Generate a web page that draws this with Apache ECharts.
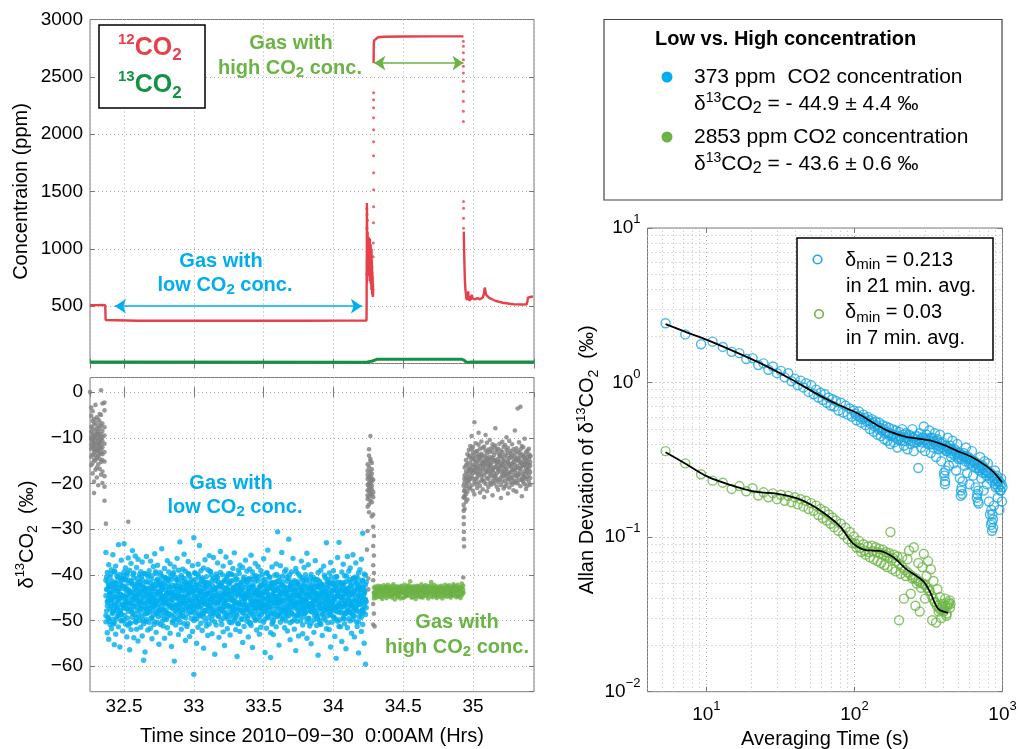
<!DOCTYPE html>
<html>
<head>
<meta charset="utf-8">
<script src="https://cdn.jsdelivr.net/npm/echarts/dist/echarts.min.js"></script>
<style>html,body{margin:0;padding:0;background:#fff;overflow:hidden}#chart{width:1019px;height:749px}</style>
</head>
<body>
<div id="chart"></div>
<script>
// ---------------- DATA ----------------
// Top-left: 12CO2 concentration (ppm) vs time (hrs)
const red12Low = [[32.256,508],[32.30,509],[32.34,510],[32.365,508],[32.368,380],[32.372,374],[32.6,373],[32.9,374],[33.2,373],[33.5,374],[33.8,373],[34.1,374],[34.237,374],[34.238,520],[34.2385,900],[34.239,700],[34.2395,1200],[34.240,1400],[34.2405,950],[34.241,1250],[34.2415,880],[34.242,1100],[34.2425,820],[34.243,1050],[34.244,900],[34.245,1150],[34.246,780],[34.247,1000],[34.248,860],[34.249,1080],[34.25,800],[34.251,960],[34.252,850],[34.253,1100],[34.254,760],[34.255,1000],[34.256,880],[34.257,1060],[34.258,790],[34.259,950],[34.26,720],[34.261,1090],[34.262,830],[34.263,1000],[34.264,760],[34.265,920],[34.266,700],[34.267,1040],[34.268,780],[34.269,960],[34.27,690],[34.271,880],[34.272,640],[34.273,1000],[34.274,720],[34.275,900],[34.276,650],[34.277,860],[34.278,600],[34.279,800],[34.28,620],[34.281,760],[34.282,580],[34.283,700],[34.284,590],[34.285,650]];
const red12High = [[34.288,2620],[34.289,2780],[34.292,2818],[34.30,2835],[34.32,2845],[34.36,2850],[34.5,2852],[34.7,2853],[34.931,2853]];
const red12Tail = [[34.934,1150],[34.936,1000],[34.939,850],[34.942,720],[34.946,640],[34.95,600],[34.953,560],[34.956,610],[34.959,550],[34.962,580],[34.966,630],[34.969,560],[34.973,590],[34.977,545],[34.981,575],[34.985,555],[34.99,600],[34.995,570],[35.0,555],[35.006,580],[35.012,560],[35.018,575],[35.025,560],[35.032,570],[35.04,556],[35.05,560],[35.06,565],[35.07,575],[35.078,610],[35.084,662],[35.088,640],[35.093,600],[35.1,585],[35.116,572],[35.14,558],[35.164,545],[35.19,537],[35.212,530],[35.24,525],[35.261,521],[35.29,517],[35.31,516],[35.34,515],[35.36,514],[35.385,516],[35.39,545],[35.394,575],[35.40,560],[35.41,580],[35.42,565],[35.43,585]];
const red12Dots = [[34.288,2362],[34.288,2300],[34.288,2230],[34.288,2144],[34.288,2039],[34.288,1934],[34.288,1812],[34.288,1664],[34.288,1515],[34.288,1366],[34.287,1227],[34.286,1050],[34.285,930],[34.241,1300],[34.240,1180],[34.239,780],[34.2395,1350],[34.244,1250],[34.931,2810],[34.931,2767],[34.931,2709],[34.931,2650],[34.931,2592],[34.931,2534],[34.931,2461],[34.931,2373],[34.931,2286],[34.931,2199],[34.931,2111],[34.932,1412],[34.932,1354],[34.932,1267],[34.932,1179]];
const green13 = [[32.256,12],[32.37,12],[32.372,11],[34.237,11],[34.25,16],[34.28,22],[34.29,28],[34.31,36],[34.92,36],[34.935,30],[34.95,14],[34.98,12],[35.437,12]];

// Bottom-left: d13CO2 (permil) vs time, rows = [time, values...]
const blueRows = [
[32.37,-35.1,-44.6,-48.9,-41.2,-50.3],[32.38,-46.8,-39.5,-43.1,-52.7,-45.9],[32.39,-42.3,-49.6,-37.8,-45.2,-54.1],[32.40,-47.5,-43.8,-40.6,-50.9,-44.0],
[32.41,-38.9,-46.3,-51.8,-42.7,-45.5],[32.42,-44.1,-35.6,-48.2,-49.7,-41.9],[32.43,-50.5,-43.4,-46.7,-39.2,-55.3],[32.44,-41.6,-47.9,-44.8,-53.0,-38.1],
[32.45,-45.7,-40.3,-49.1,-42.9,-47.2],[32.46,-33.4,-46.0,-43.7,-51.4,-48.5],[32.47,-42.0,-55.8,-45.3,-39.9,-47.8],[32.48,-48.7,-41.3,-44.4,-36.8,-50.1],
[32.49,-46.6,-52.3,-40.8,-44.9,-43.0],[32.50,-39.4,-47.1,-49.9,-42.5,-33.2],[32.51,-44.7,-50.8,-38.5,-46.4,-41.0],[32.52,-53.6,-43.2,-47.4,-40.1,-45.8],
[32.53,-41.8,-48.0,-36.3,-44.3,-51.1],[32.54,-46.2,-39.0,-50.6,-43.6,-56.4],[32.55,-43.9,-47.6,-41.4,-52.0,-37.5],[32.56,-49.3,-45.1,-34.7,-42.2,-48.4],
[32.57,-40.7,-44.5,-53.8,-46.9,-39.6],[32.58,-47.0,-42.6,-50.2,-35.9,-45.4],[32.59,-43.3,-49.4,-38.4,-45.0,-51.9],[32.60,-36.6,-46.5,-41.7,-54.5,-44.2],
[32.61,-48.1,-40.0,-46.1,-43.5,-50.0],[32.62,-45.6,-51.5,-39.3,-47.3,-42.4],[32.63,-41.1,-44.0,-49.0,-37.2,-53.4],[32.64,-47.7,-42.8,-45.0,-50.7,-58.7],
[32.65,-39.8,-48.6,-43.4,-46.3,-56.9],[32.66,-44.4,-36.0,-47.5,-41.5,-49.8],[32.67,-52.1,-45.5,-40.4,-48.3,-43.1],[32.68,-42.9,-47.4,-50.4,-39.1,-45.9],
[32.69,-46.0,-41.9,-37.0,-44.6,-51.7],[32.70,-49.5,-43.7,-46.8,-54.0,-40.2],[32.71,-38.2,-47.0,-42.1,-45.3,-48.8],[32.72,-44.9,-50.3,-35.4,-43.0,-46.6],
[32.73,-41.3,-45.8,-52.6,-48.2,-39.7],[32.74,-47.2,-40.9,-44.2,-37.9,-50.5],[32.75,-43.6,-55.2,-46.4,-41.8,-48.0],[32.76,-50.9,-42.3,-39.5,-45.6,-44.1],
[32.77,-45.1,-48.9,-43.2,-34.3,-47.7],[32.78,-40.5,-46.2,-51.2,-44.7,-42.0],[32.79,-48.4,-38.6,-45.7,-49.6,-53.9],[32.80,-42.6,-47.8,-40.7,-46.0,-44.5],
[32.81,-36.9,-43.9,-49.2,-51.6,-45.2],[32.82,-46.7,-41.2,-44.0,-39.4,-48.6],[32.83,-44.3,-52.8,-47.1,-42.7,-37.6],[32.84,-49.0,-45.4,-41.0,-55.7,-43.8],
[32.85,-39.9,-47.5,-50.1,-44.8,-46.3],[32.86,-43.1,-38.3,-46.9,-48.7,-58.9],[32.87,-47.9,-44.6,-42.4,-40.6,-51.0],[32.88,-45.3,-49.8,-36.4,-46.5,-43.0],
[32.89,-41.7,-47.3,-53.1,-44.1,-39.0],[32.90,-32.8,-45.7,-48.1,-42.5,-50.4],[32.91,-46.4,-40.1,-44.7,-51.9,-47.6],[32.92,-43.5,-48.3,-38.8,-45.1,-41.4],
[32.93,-50.7,-42.0,-46.1,-35.5,-44.9],[32.94,-39.2,-47.7,-43.3,-49.4,-54.4],[32.95,-45.0,-41.6,-51.3,-46.8,-42.8],[32.96,-48.5,-44.3,-39.7,-43.9,-37.1],
[32.97,-42.2,-53.5,-47.0,-45.5,-40.3],[32.98,-46.9,-43.1,-49.5,-41.1,-48.2],[32.99,-44.0,-38.0,-45.9,-52.4,-42.9],[33.00,-31.9,-47.4,-43.6,-50.0,-61.8],
[33.01,-45.6,-41.0,-48.8,-39.6,-46.7],[33.02,-49.7,-44.8,-42.3,-55.0,-43.4],[33.03,-40.0,-46.2,-51.5,-44.4,-37.7],[33.04,-47.1,-42.7,-45.2,-48.9,-33.6],
[33.05,-43.8,-50.6,-39.1,-46.0,-41.5],[33.06,-52.2,-45.3,-47.7,-42.1,-44.6],[33.07,-38.5,-48.4,-43.0,-49.3,-56.1],[33.08,-46.3,-41.8,-44.9,-36.7,-47.8],
[33.09,-42.4,-51.2,-46.6,-43.7,-40.4],[33.10,-48.0,-44.2,-38.9,-45.8,-53.3],[33.11,-41.9,-47.0,-50.8,-42.6,-35.8],[33.12,-45.4,-39.3,-43.5,-48.6,-46.1],
[33.13,-44.7,-52.9,-41.3,-47.5,-49.9],[33.14,-36.2,-45.9,-48.3,-40.8,-43.2],[33.15,-50.3,-43.3,-46.5,-44.0,-57.4],[33.16,-42.8,-47.9,-39.8,-51.0,-45.1],
[33.17,-46.1,-40.7,-44.4,-37.4,-48.7],[33.18,-43.9,-49.1,-53.7,-45.7,-42.2],[33.19,-39.5,-46.8,-42.5,-48.0,-34.9],[33.20,-47.6,-44.5,-50.9,-41.7,-45.3],
[33.21,-45.0,-38.1,-47.2,-52.5,-43.6],[33.22,-41.2,-48.5,-44.1,-46.4,-55.5],[33.23,-49.2,-42.9,-36.1,-45.6,-47.0],[33.24,-44.4,-51.8,-40.2,-43.0,-48.9],
[33.25,-46.7,-39.7,-45.5,-49.8,-42.0],[33.26,-37.3,-47.3,-43.8,-41.4,-53.2],[33.27,-48.2,-45.1,-50.5,-44.3,-39.9],[33.28,-42.7,-46.9,-38.6,-48.1,-45.7],
[33.29,-50.1,-43.5,-47.6,-35.2,-44.0],[33.30,-45.9,-41.1,-44.8,-52.0,-49.5],[33.31,-40.9,-48.8,-42.4,-46.2,-57.9],[33.32,-47.4,-44.0,-39.0,-50.7,-43.3],
[33.33,-43.1,-52.4,-46.0,-42.3,-37.9],[33.34,-49.6,-45.2,-41.6,-47.8,-44.5],[33.35,-38.4,-46.6,-48.4,-43.9,-54.8],[33.36,-44.8,-40.5,-45.3,-51.3,-47.1],
[33.37,-46.5,-49.0,-36.8,-42.8,-44.2],[33.38,-41.5,-47.7,-50.2,-45.0,-39.2],[33.39,-48.9,-43.6,-44.6,-53.6,-46.8],[33.40,-42.1,-38.7,-47.9,-41.0,-50.6],
[33.41,-45.8,-51.1,-43.0,-48.3,-35.7],[33.42,-47.3,-42.5,-46.3,-39.4,-55.9],[33.43,-40.3,-49.3,-44.9,-45.9,-42.6],[33.44,-50.0,-44.1,-37.5,-47.2,-48.0],
[33.45,-43.4,-46.7,-52.1,-40.9,-45.5],[33.46,-46.0,-41.3,-48.6,-44.4,-38.2],[33.47,-44.6,-53.0,-42.7,-49.1,-46.9],[33.48,-39.1,-45.7,-47.4,-43.2,-51.5],
[33.49,-48.1,-42.2,-40.0,-46.6,-44.3],[33.50,-45.3,-50.4,-44.0,-36.5,-47.3],[33.51,-41.0,-46.1,-49.7,-43.7,-57.0],[33.52,-47.8,-39.6,-45.1,-51.7,-42.5],
[33.53,-44.2,-48.7,-41.8,-46.4,-34.6],[33.54,-49.4,-43.0,-47.0,-40.4,-45.8],[33.55,-42.9,-52.7,-44.5,-48.4,-58.1],[33.56,-46.2,-41.7,-38.3,-45.2,-50.8],
[33.57,-43.7,-47.5,-50.0,-42.0,-53.1],[33.58,-48.6,-44.7,-40.1,-46.7,-43.5],[33.59,-37.6,-45.4,-48.2,-51.4,-41.6],[33.60,-30.6,-46.3,-43.1,-49.2,-44.8],
[33.61,-45.5,-40.6,-47.1,-42.8,-55.4],[33.62,-50.4,-44.2,-46.0,-38.0,-48.8],[33.63,-42.3,-48.1,-35.1,-45.6,-43.9],[33.64,-47.2,-43.4,-49.5,-41.5,-46.4],
[33.65,-44.0,-51.6,-42.6,-47.7,-39.3],[33.66,-38.9,-45.8,-44.3,-50.1,-48.3],[33.67,-46.8,-41.4,-52.3,-43.6,-45.0],[33.68,-32.2,-47.6,-40.8,-45.3,-49.0],
[33.69,-43.3,-50.5,-46.2,-42.4,-54.2],[33.70,-48.4,-44.5,-39.4,-47.0,-41.8],[33.71,-45.7,-36.4,-48.7,-43.8,-46.5],[33.72,-41.3,-49.8,-44.6,-51.9,-42.1],
[33.73,-47.0,-43.0,-45.9,-38.6,-56.6],[33.74,-44.4,-48.9,-41.9,-46.1,-50.2],[33.75,-39.8,-45.1,-53.4,-43.4,-47.4],[33.76,-49.1,-42.7,-46.4,-40.3,-44.7],
[33.77,-43.6,-47.3,-37.0,-48.5,-45.4],[33.78,-46.6,-51.0,-43.2,-41.2,-52.9],[33.79,-42.0,-44.9,-49.3,-47.6,-38.4],[33.80,-48.3,-40.0,-45.6,-44.2,-46.0],
[33.81,-45.2,-53.9,-42.8,-50.3,-35.3],[33.82,-37.8,-46.9,-47.8,-43.1,-49.6],[33.83,-44.8,-41.6,-51.2,-46.3,-42.9],[33.84,-50.6,-45.0,-39.9,-44.0,-55.1],
[33.85,-43.0,-48.2,-46.7,-42.2,-47.1],[33.86,-40.7,-52.6,-44.4,-49.9,-45.6],[33.87,-46.4,-43.9,-36.9,-48.0,-41.1],[33.88,-48.8,-42.5,-45.4,-51.1,-44.1],
[33.89,-42.6,-47.9,-49.0,-39.5,-57.6],[33.90,-45.9,-44.3,-41.4,-46.8,-50.0],[33.91,-39.0,-50.9,-47.3,-43.5,-45.1],[33.92,-47.5,-42.1,-44.0,-53.3,-48.6],
[33.93,-44.1,-46.2,-38.1,-49.4,-42.7],[33.94,-49.9,-43.7,-47.0,-40.6,-45.8],[33.95,-33.0,-48.0,-45.2,-51.8,-43.0],[33.96,-46.7,-41.0,-50.5,-44.9,-47.7],
[33.97,-43.2,-52.0,-42.3,-46.0,-39.6],[33.98,-48.0,-45.3,-48.8,-37.3,-55.8],[33.99,-41.8,-47.2,-44.5,-50.4,-43.6],[34.00,-45.6,-39.1,-46.6,-42.0,-49.2],
[34.01,-47.9,-43.4,-53.5,-45.5,-41.3],[34.02,-42.4,-49.7,-40.4,-47.4,-58.3],[34.03,-50.2,-44.6,-46.9,-36.2,-43.9],[34.04,-32.9,-46.1,-42.9,-48.2,-51.3],
[34.05,-44.7,-51.4,-45.0,-41.7,-47.0],[34.06,-39.4,-45.7,-48.4,-43.3,-54.6],[34.07,-46.9,-42.2,-37.7,-49.5,-44.2],[34.08,-43.5,-48.6,-45.8,-40.2,-50.7],
[34.09,-48.5,-41.5,-44.1,-46.5,-56.2],[34.10,-36.0,-47.8,-51.6,-43.0,-45.3],[34.11,-45.1,-43.8,-39.2,-48.1,-49.6],[34.12,-41.6,-50.1,-46.3,-44.3,-38.5],
[34.13,-47.3,-44.0,-42.5,-52.8,-46.0],[34.14,-43.9,-48.9,-49.8,-40.8,-35.6],[34.15,-49.0,-45.5,-43.6,-47.1,-53.6],[34.16,-40.5,-46.8,-37.4,-44.6,-42.0],
[34.17,-46.0,-51.3,-48.0,-41.9,-45.9],[34.18,-44.5,-42.6,-39.6,-50.3,-57.1],[34.19,-48.2,-45.2,-46.4,-43.3,-38.9],[34.20,-42.8,-49.3,-44.8,-36.6,-52.4],
[34.21,-45.7,-41.2,-47.6,-50.9,-30.9],[34.22,-47.0,-44.1,-39.8,-55.0,-43.4],[34.23,-40.1,-48.7,-45.4,-42.2,-59.6]
];
const blueCoreRows = [
[32.375,-43.2,-47.9,-40.5],[32.385,-45.8,-41.7,-49.3],[32.395,-44.1,-50.2,-42.6],[32.405,-46.9,-39.8,-44.7],[32.415,-41.4,-48.5,-45.3],[32.425,-47.6,-43.0,-50.8],
[32.435,-42.2,-46.4,-39.4],[32.445,-49.7,-44.8,-41.9],[32.455,-43.7,-40.6,-47.1],[32.465,-45.1,-49.0,-42.9],[32.475,-40.9,-44.3,-48.2],[32.485,-46.5,-42.4,-50.0],
[32.495,-44.6,-47.3,-40.2],[32.505,-48.9,-41.1,-45.6],[32.515,-42.8,-46.0,-43.5],[32.525,-39.6,-44.9,-49.5],[32.535,-47.0,-43.3,-41.2],[32.545,-44.0,-50.6,-46.2],
[32.555,-41.8,-45.4,-48.0],[32.565,-46.3,-39.9,-43.9],[32.575,-43.1,-48.7,-45.0],[32.585,-50.4,-42.0,-44.4],[32.595,-45.7,-47.8,-40.8],[32.605,-42.5,-44.6,-49.1],
[32.615,-47.4,-41.5,-45.9],[32.625,-40.4,-46.7,-43.6],[32.635,-44.8,-49.9,-42.1],[32.645,-46.1,-43.4,-39.7],[32.655,-42.9,-47.2,-50.3],[32.665,-48.4,-44.2,-41.6],
[32.675,-45.3,-40.0,-46.8],[32.685,-43.8,-48.1,-44.5],[32.695,-41.0,-45.7,-49.4],[32.705,-47.7,-42.7,-43.0],[32.715,-44.3,-50.9,-46.6],[32.725,-39.3,-46.2,-42.3],
[32.735,-45.9,-43.7,-48.6],[32.745,-42.4,-49.2,-44.1],[32.755,-47.9,-41.3,-45.2],[32.765,-43.5,-46.9,-40.1],[32.775,-50.1,-44.7,-42.8],[32.785,-41.7,-47.5,-45.8],
[32.795,-46.4,-40.7,-43.3],[32.805,-44.1,-48.3,-49.8],[32.815,-42.0,-45.5,-41.1],[32.825,-48.6,-43.1,-46.5],[32.835,-40.3,-46.8,-44.0],[32.845,-45.4,-42.2,-50.5],
[32.855,-47.1,-44.4,-39.5],[32.865,-43.9,-49.6,-42.5],[32.875,-41.2,-45.0,-47.6],[32.885,-46.7,-40.9,-44.9],[32.895,-44.5,-48.8,-43.4],[32.905,-49.3,-42.9,-46.0],
[32.915,-42.7,-47.0,-40.6],[32.925,-45.6,-43.5,-49.0],[32.935,-40.8,-46.3,-44.6],[32.945,-47.3,-41.8,-42.4],[32.955,-43.3,-50.7,-45.7],[32.965,-46.0,-44.1,-39.9],
[32.975,-41.9,-48.0,-47.2],[32.985,-45.2,-42.6,-43.8],[32.995,-48.1,-46.5,-41.4],[33.005,-44.7,-39.6,-49.7],[33.015,-42.3,-47.7,-45.1],[33.025,-46.9,-43.2,-42.0],
[33.035,-40.5,-45.9,-48.4],[33.045,-49.0,-44.0,-43.6],[33.055,-43.6,-41.0,-46.7],[33.065,-45.8,-48.6,-40.7],[33.075,-41.5,-46.1,-44.3],[33.085,-47.8,-42.8,-50.2],
[33.095,-44.2,-45.3,-41.7],[33.105,-42.1,-49.4,-46.9],[33.115,-46.6,-43.9,-39.2],[33.125,-40.1,-47.4,-45.0],[33.135,-45.0,-42.4,-48.9],[33.145,-48.3,-44.6,-43.0],
[33.155,-43.0,-46.0,-41.3],[33.165,-46.2,-40.4,-47.5],[33.175,-41.6,-49.1,-44.8],[33.185,-47.4,-45.7,-42.7],[33.195,-44.9,-42.1,-50.0],[33.205,-42.6,-47.9,-40.0],
[33.215,-49.5,-44.3,-46.3],[33.225,-45.5,-41.4,-43.1],[33.235,-40.7,-46.7,-48.2],[33.245,-46.8,-43.6,-44.5],[33.255,-43.4,-50.4,-41.8],[33.265,-48.8,-45.2,-39.8],
[33.275,-41.3,-47.1,-45.6],[33.285,-45.7,-42.9,-49.3],[33.295,-43.2,-40.2,-46.4],[33.305,-47.5,-48.5,-42.2],[33.315,-44.4,-43.7,-50.7],[33.325,-39.7,-46.5,-44.2],
[33.335,-46.4,-41.9,-47.8],[33.345,-42.9,-49.8,-43.4],[33.355,-48.2,-44.9,-40.9],[33.365,-45.3,-42.0,-46.1],[33.375,-41.1,-47.6,-44.7],[33.385,-47.2,-43.8,-49.5],
[33.395,-44.0,-40.8,-42.8],[33.405,-50.5,-46.4,-45.3],[33.415,-42.8,-44.5,-41.0],[33.425,-46.5,-48.7,-43.9],[33.435,-43.7,-41.6,-47.3],[33.445,-40.2,-45.8,-49.8],
[33.455,-47.0,-43.4,-44.1],[33.465,-44.6,-47.5,-40.4],[33.475,-42.4,-50.0,-45.9],[33.485,-48.7,-44.0,-42.3],[33.495,-45.1,-41.2,-46.6],[33.505,-41.9,-46.8,-48.1],
[33.515,-46.7,-43.0,-43.6],[33.525,-43.9,-49.3,-39.6],[33.535,-47.7,-45.5,-44.9],[33.545,-40.6,-42.7,-47.0],[33.555,-45.6,-48.4,-42.5],[33.565,-44.3,-41.8,-50.4],
[33.575,-49.2,-46.2,-43.2],[33.585,-42.5,-44.8,-45.8],[33.595,-46.3,-39.9,-41.5],[33.605,-43.6,-47.3,-48.8],[33.615,-41.4,-44.4,-46.0],[33.625,-47.9,-42.1,-43.8],
[33.635,-45.0,-49.7,-40.3],[33.645,-42.7,-45.6,-47.6],[33.655,-48.5,-43.3,-44.0],[33.665,-44.1,-40.5,-49.1],[33.675,-46.8,-47.8,-42.9],[33.685,-40.0,-44.7,-45.4],
[33.695,-45.9,-42.3,-48.3],[33.705,-43.1,-50.2,-41.7],[33.715,-47.3,-45.0,-46.7],[33.725,-41.7,-43.6,-43.3],[33.735,-49.0,-46.6,-39.4],[33.745,-44.5,-41.5,-47.9],
[33.755,-42.2,-48.2,-44.6],[33.765,-46.1,-44.1,-50.1],[33.775,-43.0,-40.7,-45.7],[33.785,-47.6,-47.0,-42.4],[33.795,-45.4,-43.8,-48.5],[33.805,-40.9,-45.9,-41.2],
[33.815,-46.9,-42.5,-44.3],[33.825,-44.0,-49.5,-46.8],[33.835,-48.0,-43.1,-40.6],[33.845,-42.6,-46.3,-47.4],[33.855,-45.8,-41.1,-43.7],[33.865,-43.4,-48.9,-45.5],
[33.875,-47.2,-44.6,-42.0],[33.885,-41.0,-45.2,-49.6],[33.895,-46.4,-42.8,-44.2],[33.905,-44.8,-50.6,-41.9],[33.915,-42.3,-47.4,-46.2],[33.925,-48.6,-43.9,-43.5],
[33.935,-45.2,-40.1,-47.7],[33.945,-43.8,-46.9,-44.4],[33.955,-41.5,-49.0,-42.1],[33.965,-47.1,-44.2,-45.8],[33.975,-44.4,-41.7,-48.7],[33.985,-46.0,-47.6,-40.5],
[33.995,-42.0,-43.5,-46.4],[34.005,-49.4,-45.1,-43.0],[34.015,-44.7,-42.4,-47.3],[34.025,-40.4,-48.1,-44.8],[34.035,-46.6,-43.7,-41.6],[34.045,-43.5,-46.5,-49.9],
[34.055,-47.8,-41.9,-45.0],[34.065,-45.0,-44.9,-42.6],[34.075,-41.8,-49.6,-46.9],[34.085,-46.2,-43.2,-44.1],[34.095,-44.2,-40.3,-48.0],[34.105,-42.9,-47.0,-43.6],
[34.115,-48.3,-45.6,-41.1],[34.125,-43.3,-42.3,-46.7],[34.135,-46.7,-48.6,-44.5],[34.145,-40.7,-44.0,-47.9],[34.155,-45.7,-41.4,-43.2],[34.165,-47.5,-46.8,-50.3],
[34.175,-42.8,-43.4,-40.8],[34.185,-44.9,-49.2,-46.5],[34.195,-46.3,-42.0,-44.0],[34.205,-41.3,-47.7,-48.4],[34.215,-48.1,-44.5,-42.7],[34.225,-43.7,-46.1,-45.4],
[34.235,-45.9,-41.6,-47.2]
];
const grayRows = [
[32.265,-5.2,-9.8,-12.4,-7.6,-14.1,-10.3,-16.0,-8.7,-11.5,-3.4],[32.275,-11.0,-6.3,-13.7,-9.1,-15.5,-4.2,-12.0,-17.8,-10.6,-8.0],
[32.285,-9.4,-13.2,-7.1,-11.8,-19.6,-10.0,-14.8,-5.9,-12.7,-22.1],[32.295,-12.3,-8.4,-15.0,-10.8,-6.7,-13.9,-11.2,-17.0,-9.6,-2.8],
[32.305,-10.1,-14.4,-7.9,-12.9,-9.0,-16.5,-5.5,-11.4,-13.0,-18.7],[32.315,-8.8,-12.6,-10.4,-15.8,-6.0,-11.9,-14.0,-9.3,-20.4,-7.3],
[32.325,-13.5,-9.7,-11.1,-4.8,-16.8,-10.9,-12.2,-8.1,-14.6,-6.5],[32.335,-11.6,-7.4,-13.3,-10.2,-18.1,-9.2,-15.3,-12.5,-5.0,0.4],
[32.345,-9.9,-14.9,-6.9,-12.1,-10.7,-17.4,-8.5,-13.6,-2.5,-19.9],[32.36,-4.0,-7.7,-11.3,-15.2,-18.4,-20.7,-2.3,-13.1,-9.5,-23.8],
[34.245,-17.2,-21.5,-19.0,-23.4,-15.8,-20.3,-25.1,-18.1,-22.6,-30.4],[34.255,-20.8,-16.4,-22.9,-18.7,-24.6,-13.9,-19.9,-21.7,-12.5,-26.3],
[34.265,-18.4,-22.2,-9.6,-20.1,-15.1,-23.8,-17.5,-21.0,-19.3,-14.6],[34.275,-21.3,-17.9,-24.1,-19.6,-16.9,-22.5,-20.5,-27.2,-15.5,-18.9],
[34.285,-23.0,-19.2,-26.8,-21.9,-29.5,-33.7,-37.9,-41.2,-46.4,-50.9],
[34.94,-19.8,-23.1,-16.5,-21.4,-25.6,-18.2,-22.7],[34.95,-17.4,-20.6,-14.9,-22.3,-18.8,-24.0,-16.0],[34.96,-15.7,-19.3,-21.8,-13.6,-17.9,-20.0,-23.5],
[34.97,-18.6,-14.2,-16.8,-20.9,-12.7,-19.5,-17.1],[34.98,-13.9,-17.6,-21.1,-15.4,-19.0,-11.8,-16.3],[34.99,-16.9,-12.5,-18.3,-14.7,-20.4,-17.2,-9.6],
[35.00,-14.4,-18.9,-15.9,-12.0,-17.7,-21.6,-13.3],[35.01,-17.0,-13.8,-6.6,-16.1,-19.7,-14.8,-22.4],[35.02,-15.2,-19.1,-13.0,-17.5,-11.2,-16.6,-20.2],
[35.03,-12.9,-16.4,-18.7,-14.1,-21.0,-15.6,-17.8],[35.04,-18.1,-14.6,-11.5,-16.9,-13.7,-19.8,-8.9],[35.05,-16.2,-20.5,-14.3,-17.3,-12.4,-15.0,-22.0],
[35.06,-13.5,-17.9,-19.4,-15.8,-10.8,-18.5,-14.0],[35.07,-15.5,-12.2,-17.0,-21.3,-16.5,-13.9,-19.2],[35.08,-19.6,-14.8,-16.0,-11.9,-18.2,-15.3,-23.0],
[35.09,-14.1,-17.6,-12.8,-20.1,-15.7,-9.4,-16.8],[35.10,-17.4,-13.4,-18.8,-15.1,-21.7,-14.5,-11.1],[35.11,-12.6,-16.3,-14.9,-19.0,-17.2,-20.8,-15.9],
[35.12,-15.8,-19.9,-13.1,-16.7,-10.5,-18.0,-14.2],[35.13,-18.4,-14.7,-16.1,-12.3,-20.3,-15.4,-17.5],[35.14,-13.0,-17.1,-19.5,-14.4,-16.9,-22.6,-11.4],
[35.15,-16.6,-12.1,-15.2,-18.6,-13.8,-17.7,-20.0],[35.16,-14.9,-18.3,-11.7,-16.4,-19.3,-15.0,-7.9],[35.17,-17.8,-15.5,-20.7,-13.2,-16.0,-12.6,-18.9],
[35.18,-12.4,-16.8,-14.6,-19.7,-15.3,-21.4,-17.0],[35.19,-15.1,-19.2,-17.4,-11.3,-14.0,-16.5,-13.6],[35.20,-18.7,-13.9,-16.2,-20.4,-12.8,-15.7,-23.2],
[35.21,-14.3,-17.3,-10.9,-15.9,-18.1,-13.1,-19.6],[35.22,-16.7,-12.0,-18.5,-14.8,-21.1,-17.6,-15.2],[35.23,-13.7,-19.4,-15.6,-17.9,-11.6,-16.3,-20.6],
[35.24,-17.2,-14.1,-20.1,-12.7,-16.8,-18.4,-9.9],[35.25,-15.4,-18.0,-13.3,-19.1,-15.0,-22.2,-12.2],[35.26,-19.0,-16.1,-14.5,-17.7,-10.7,-15.8,-20.9],
[35.27,-12.9,-17.5,-19.8,-14.2,-16.4,-13.5,-18.6],[35.28,-16.0,-20.3,-13.9,-15.6,-18.8,-11.4,-17.1],[35.29,-14.6,-18.2,-16.9,-12.5,-21.5,-15.3,-19.4],
[35.30,-17.6,-13.2,-15.9,-19.9,-14.0,-17.0,-8.4],[35.31,-15.0,-19.5,-12.3,-16.6,-18.5,-14.8,-21.8],[35.32,-18.3,-14.4,-17.8,-3.6,-13.0,-16.2,-20.0],
[35.33,-13.4,-16.7,-19.2,-15.2,-11.0,-18.1,-14.7],[35.34,-16.8,-20.6,-14.0,-17.4,-3.2,-15.5,-12.6],[35.35,-19.3,-15.7,-13.6,-18.9,-16.3,-22.8,-11.8],
[35.36,-14.2,-17.9,-15.1,-12.1,-19.7,-16.0,-18.4],[35.37,-17.3,-13.8,-20.2,-15.8,-14.5,-18.7,-10.2],[35.38,-15.6,-19.0,-16.6,-13.1,-17.7,-21.2,-14.9],
[35.39,-12.8,-16.4,-18.6,-14.3,-20.5,-15.4,-17.2],[35.40,-18.0,-14.7,-12.4,-16.9,-19.6,-13.6,-15.9],[35.41,-15.3,-17.5,-20.3,-13.9,-16.1,-18.8,-14.1]
];
const grayStray = [[32.256,0.0],[32.37,-28.8],[32.53,-28.4],[34.29,-31.5],[34.29,-35.8],[34.29,-39.6],[34.29,-44.0],[34.29,-48.5],[34.295,-51.3],[34.24,-34.5],[34.25,-43.2],[34.25,-40.8],
[34.932,-20.5],[34.932,-23.1],[34.933,-24.7],[34.933,-26.0],[34.934,-27.4],[34.934,-28.9],[34.935,-30.6],[34.935,-32.2],[34.936,-33.8],[34.93,-40.6],[34.937,-21.7],[34.938,-19.0]];
const greenRows = [
[34.29,-43.9,-44.6,-42.8,-45.2],[34.30,-43.1,-44.3,-44.9,-42.6],[34.31,-44.0,-43.4,-45.0,-42.9],[34.32,-43.7,-42.4,-44.5,-43.9],[34.33,-44.8,-43.2,-42.7,-44.1],
[34.34,-43.5,-44.9,-43.0,-42.5],[34.35,-42.9,-44.2,-43.8,-45.3],[34.36,-44.4,-43.3,-42.3,-43.9],[34.37,-43.0,-44.7,-43.6,-42.8],[34.38,-44.1,-42.6,-45.1,-43.4],
[34.39,-43.8,-43.1,-44.4,-42.2],[34.40,-42.7,-44.0,-43.5,-44.8],[34.41,-44.5,-43.6,-42.9,-43.2],[34.42,-43.3,-42.4,-44.6,-45.0],[34.43,-42.1,-43.9,-43.1,-44.3],
[34.44,-44.2,-42.8,-43.7,-45.4],[34.45,-43.6,-44.5,-42.5,-43.0],[34.46,-42.9,-43.4,-44.9,-44.1],[34.47,-44.7,-43.0,-42.6,-43.8],[34.48,-43.2,-44.2,-45.2,-42.7],
[34.49,-42.4,-43.7,-44.0,-43.5],[34.50,-44.0,-42.9,-43.3,-45.1],[34.51,-43.5,-44.8,-42.2,-43.9],[34.52,-42.8,-43.2,-44.4,-44.7],[34.53,-44.3,-43.8,-43.0,-42.5],
[34.54,-43.1,-42.3,-44.6,-43.6],[34.55,-41.4,-44.1,-43.4,-42.9],[34.56,-43.7,-42.6,-45.0,-44.2],[34.57,-44.9,-43.3,-42.7,-43.9],[34.58,-42.5,-44.0,-43.6,-43.1],
[34.59,-43.9,-42.8,-44.7,-45.3],[34.60,-43.4,-44.4,-42.4,-43.0],[34.61,-44.6,-43.1,-43.8,-42.6],[34.62,-42.9,-43.6,-44.3,-44.9],[34.63,-43.2,-44.8,-42.1,-43.7],
[34.64,-44.1,-42.7,-43.5,-45.0],[34.65,-42.6,-43.9,-44.5,-43.3],[34.66,-43.8,-42.3,-43.0,-44.4],[34.67,-44.7,-43.5,-42.8,-43.1],[34.68,-43.0,-44.2,-45.2,-42.5],
[34.69,-42.4,-43.7,-44.0,-43.9],[34.70,-41.6,-42.9,-44.6,-43.4],[34.71,-43.6,-44.9,-42.6,-43.2],[34.72,-44.3,-43.0,-42.2,-44.0],[34.73,-42.8,-43.8,-44.7,-43.5],
[34.74,-43.9,-42.5,-43.3,-45.1],[34.75,-44.5,-43.2,-42.9,-43.7],[34.76,-42.7,-44.1,-43.6,-44.8],[34.77,-43.4,-42.4,-44.4,-43.0],[34.78,-44.0,-43.7,-42.8,-45.2],
[34.79,-42.9,-44.6,-43.1,-43.9],[34.80,-43.6,-42.2,-44.2,-44.5],[34.81,-44.8,-43.3,-42.6,-43.4],[34.82,-42.5,-44.0,-43.8,-42.9],[34.83,-43.1,-44.7,-42.3,-44.3],
[34.84,-44.2,-43.5,-43.0,-45.0],[34.85,-42.7,-43.9,-44.6,-43.2],[34.86,-43.8,-42.6,-42.1,-44.4],[34.87,-44.4,-43.0,-43.7,-42.8],[34.88,-43.3,-44.9,-42.5,-43.6],
[34.89,-42.2,-43.6,-44.1,-44.7],[34.90,-44.6,-42.9,-43.4,-43.0],[34.91,-43.5,-44.3,-42.7,-45.1],[34.92,-42.8,-43.7,-44.5,-41.9],[34.93,-43.9,-42.4,-44.0,-43.3]
];

// Right: Allan deviation (permil) vs averaging time (s)
const allanBlue = [[5.3,2.42],[7.2,2.05],[9.2,1.77],[11.0,1.84],[12.9,1.70],[14.8,1.58],[16.7,1.55],[18.6,1.42],[20.5,1.44],[22.4,1.30],[24.3,1.33],[26.2,1.21],[28.1,1.27],[30.0,1.15],[31.9,1.19],[33.8,1.08],[35.7,1.15],[37.6,1.02],[39.5,1.06],[41.4,0.96],[43.3,1.03],[45.2,0.93],[47.1,0.99],[49.0,0.87],[51.0,0.96],[53.0,0.84],[55.0,0.90],[57.0,0.80],[59.0,0.86],[61.0,0.77],[63.0,0.84],[65.0,0.74],[67.0,0.80],[69.0,0.71],[71.0,0.78],[73.0,0.70],[75.0,0.76],[78.0,0.66],[81.0,0.74],[84.0,0.64],[87.0,0.71],[90.0,0.62],[93.0,0.68],[96.0,0.60],[99.0,0.66],
[103,0.57],[107,0.65],[111,0.55],[115,0.62],[119,0.53],[123,0.60],[127,0.50],[131,0.58],[135,0.48],[139,0.56],[143,0.46],[147,0.55],[151,0.45],[155,0.53],[159,0.43],[163,0.52],[167,0.42],[171,0.51],[175,0.40],[180,0.50],[185,0.41],[190,0.49],[195,0.38],[200,0.48],[205,0.42],[210,0.50],[216,0.39],[222,0.47],[228,0.37],[234,0.46],[240,0.40],[246,0.50],[252,0.36],[258,0.45],[264,0.41],[270,0.28],[276,0.47],[282,0.38],[288,0.44],[294,0.52],[300,0.36],[307,0.46],[314,0.40],[321,0.49],[328,0.35],[335,0.44],[342,0.38],[349,0.47],[356,0.33],[363,0.43],[370,0.37],[378,0.46],[386,0.31],[394,0.41],[402,0.26],[410,0.23],[418,0.36],[426,0.44],[434,0.29],[442,0.39],[450,0.33],[459,0.42],[468,0.30],[477,0.37],[486,0.27],[495,0.40],[505,0.32],[515,0.24],[525,0.20],[535,0.19],[545,0.35],[555,0.29],[566,0.38],[577,0.26],[588,0.33],[599,0.22],[610,0.30],[622,0.36],[634,0.25],[646,0.31],[658,0.21],[670,0.18],[682,0.17],[694,0.28],[706,0.33],[719,0.24],[732,0.29],[745,0.20],[758,0.31],[771,0.26],[784,0.22],[797,0.30],[810,0.17],[823,0.14],[836,0.12],[849,0.11],[862,0.13],[875,0.16],[888,0.27],[901,0.21],[914,0.25],[927,0.18],[940,0.23],[953,0.15],[966,0.20],[979,0.24],[992,0.17],[1000,0.21],
[101,0.63],[105,0.61],[109,0.60],[113,0.58],[117,0.59],[121,0.56],[125,0.57],[129,0.54],[133,0.55],[137,0.52],[141,0.53],[145,0.50],[149,0.51],[153,0.49],[157,0.50],[161,0.47],[165,0.48],[169,0.46],[173,0.47],[178,0.45],[183,0.46],[188,0.44],[193,0.45],[198,0.43],[203,0.45],[208,0.44],[213,0.46],[219,0.42],[225,0.44],[231,0.43],[237,0.45],[243,0.42],[249,0.44],[255,0.41],[261,0.43],[267,0.45],[273,0.42],[279,0.43],[285,0.41],[291,0.44],[297,0.42],[304,0.43],[311,0.41],[318,0.42],[325,0.44],[332,0.40],[339,0.42],[346,0.41],[353,0.40],[360,0.42],[367,0.39],[374,0.41],[382,0.38],[390,0.40],[398,0.38],[406,0.37],[414,0.39],[422,0.36],[430,0.38],[438,0.37],[446,0.35],[455,0.37],[464,0.36],[473,0.34],[482,0.36],[491,0.35],[500,0.33],[510,0.35],[520,0.34],[530,0.32],[540,0.34],[550,0.33],[561,0.31],[572,0.33],[583,0.32],[594,0.30],[605,0.32],[616,0.31],[628,0.29],[640,0.31],[652,0.30],[664,0.28],[676,0.30],[688,0.29],[700,0.27],[713,0.29],[726,0.28],[739,0.26],[752,0.28],[765,0.27],[778,0.25],[791,0.27],[804,0.26],[817,0.24],[830,0.26],[843,0.25],[856,0.23],[869,0.25],[882,0.24],[895,0.22],[908,0.24],[921,0.23],[934,0.21],[947,0.23],[960,0.22],[973,0.20],[986,0.22],
[845,0.125],[855,0.14],[840,0.15],[865,0.115],[405,0.25],[412,0.27],[408,0.22],[530,0.21],[538,0.23],[522,0.185],[675,0.19],[685,0.20],[690,0.165]];
const allanGreen = [[5.3,0.36],[7.2,0.30],[9.2,0.255],[11.0,0.232],[12.9,0.225],[14.8,0.205],[16.7,0.214],[18.6,0.198],[20.5,0.207],[22.4,0.186],[24.3,0.195],[26.2,0.181],[28.1,0.192],[30.0,0.176],[31.9,0.188],[33.8,0.172],[35.7,0.185],[37.6,0.168],[39.5,0.181],[41.4,0.163],[43.3,0.176],[45.2,0.158],[47.1,0.172],[49.0,0.152],[51.0,0.166],[53.0,0.148],[55.0,0.160],[57.0,0.139],[59.0,0.152],[61.0,0.133],[63.0,0.147],[65.0,0.128],[67.0,0.140],[69.0,0.122],[71.0,0.134],[73.0,0.116],[75.0,0.128],[78.0,0.110],[81.0,0.122],[84.0,0.104],[87.0,0.115],[90.0,0.097],[93.0,0.108],[96.0,0.092],[99.0,0.101],
[103,0.086],[107,0.095],[111,0.080],[115,0.090],[119,0.077],[123,0.087],[127,0.074],[131,0.088],[135,0.072],[139,0.086],[143,0.070],[147,0.084],[151,0.068],[155,0.083],[159,0.066],[163,0.080],[167,0.064],[171,0.079],[175,0.108],[180,0.062],[185,0.077],[190,0.060],[195,0.075],[200,0.029],[205,0.058],[210,0.074],[216,0.040],[222,0.056],[228,0.072],[234,0.082],[240,0.043],[246,0.054],[252,0.086],[258,0.036],[264,0.050],[270,0.068],[276,0.033],[282,0.047],[288,0.064],[294,0.078],[300,0.040],[307,0.056],[314,0.070],[321,0.045],[328,0.062],[335,0.029],[342,0.052],[349,0.038],[356,0.028],[363,0.046],[370,0.033],[378,0.041],[386,0.030],[394,0.037],[402,0.034],[410,0.040],[418,0.031],[426,0.036],[434,0.038],[442,0.035],
[101,0.091],[109,0.085],[117,0.082],[125,0.080],[133,0.081],[141,0.080],[149,0.079],[157,0.077],[165,0.076],[173,0.074],[182,0.073],[191,0.070],[200,0.067],[210,0.064],[220,0.061],[230,0.059],[240,0.057],[250,0.055],[260,0.054],[270,0.052],[280,0.051],[290,0.050],[300,0.049],[310,0.047],[320,0.045],[330,0.042],[340,0.040],[350,0.038],[360,0.036],[370,0.035],[380,0.034],[390,0.035],[400,0.033],[410,0.036],[420,0.032],[430,0.037],[440,0.039],[445,0.037]];
const allanBlueFit = [[5.3,2.39],[7.3,2.12],[10.1,1.89],[21.8,1.37],[36.6,1.063],[61.4,0.802],[80,0.71],[103,0.638],[148,0.519],[173,0.481],[224,0.446],[323,0.423],[400,0.395],[489,0.363],[620,0.33],[780,0.288],[880,0.26],[993,0.2255]];
const allanGreenFit = [[5.3,0.354],[7.33,0.296],[10.1,0.247],[14.4,0.218],[21.8,0.196],[29.7,0.191],[40.6,0.179],[49.9,0.164],[61.4,0.1445],[79.6,0.118],[97.8,0.0912],[120,0.0823],[148,0.0814],[182,0.0743],[224,0.0621],[291,0.0519],[323,0.0445],[367,0.0345],[429,0.0324]];

// Annotation arrows (data coordinates)
const arrowLow = [[32.435,500],[34.204,500]];
const arrowHigh = [[34.293,2620],[34.932,2620]];
// Minor log grid values
const minorTau = [5,6,7,8,9,20,30,40,50,60,70,80,90,200,300,400,500,600,700,800,900];
const minorDev = [0.02,0.03,0.04,0.05,0.06,0.07,0.08,0.09,0.2,0.3,0.4,0.5,0.6,0.7,0.8,0.9,2,3,4,5,6,7,8,9];

// ---------------- STYLE ----------------
const FONT = 'Liberation Sans, Arial, Helvetica, sans-serif';
const RED = '#e8404a', DKGREEN = '#129343', BLUE = '#00aeef', LTGREEN = '#6ab344', GRAY = '#808080';
const AXC = '#7a7a7a';

function rowsToPoints(rows){ const out=[]; rows.forEach(r=>{ for(let i=1;i<r.length;i++) out.push([r[0], r[i]]); }); return out; }
const minus = v => (v < 0 ? '\u2212' + (-v) : String(v));

const tick = {show:true, inside:true, length:5, lineStyle:{color:AXC, width:1}};
const split = {show:true, lineStyle:{color:'#a8a8a8', type:[1,3], width:1}};
const lbl = {color:'#000', fontSize:19, fontFamily:FONT};
const logRich = {b:{fontSize:19, fontFamily:FONT, color:'#000', lineHeight:30}, s:{fontSize:13, fontFamily:FONT, color:'#000', verticalAlign:'top', lineHeight:12}};
const logFmt = v => { const e = Math.round(Math.log10(v)); return '{b|10}{s|' + (e < 0 ? '\u2212' + (-e) : e) + '}'; };
const nameRich = {p:{fontSize:13, fontFamily:FONT, color:'#000', verticalAlign:'top', lineHeight:13}, q:{fontSize:14, fontFamily:FONT, color:'#000', verticalAlign:'bottom', lineHeight:14}};

function mirrorX(g, type, min, max){ return {type, gridIndex:g, position:'top', min, max, axisLine:{show:false}, axisTick:tick, axisLabel:{show:false}, splitLine:{show:false}}; }
function mirrorY(g, type, min, max, extra){ return Object.assign({type, gridIndex:g, position:'right', min, max, axisLine:{show:false}, axisTick:tick, axisLabel:{show:false}, splitLine:{show:false}}, extra||{}); }

function T(x, y, text, color, size, weight, rich){
  return {type:'text', x, y, silent:true, z:100, style:{text, fill:color, fontSize:size, fontWeight:weight||'normal', fontFamily:FONT, align:'left', verticalAlign:'middle', lineHeight:Math.round(size*1.25), rich:rich||{}}};
}
function TC(x, y, text, color, size, weight, rich){ const t = T(x,y,text,color,size,weight,rich); t.style.align='center'; return t; }
function ss(color, size, weight){
  return {
    p:{fill:color, fontSize:Math.round(size*0.65), fontWeight:weight||'normal', fontFamily:FONT, verticalAlign:'top', lineHeight:Math.round(size*0.65)},
    b:{fill:color, fontSize:Math.round(size*0.75), fontWeight:weight||'normal', fontFamily:FONT, verticalAlign:'bottom', lineHeight:Math.round(size*0.75)},
    s:{fill:color, fontSize:Math.round(size*0.75), fontWeight:weight||'normal', fontFamily:FONT, verticalAlign:'bottom', lineHeight:Math.round(size*0.75)}
  };
}

const xT = {min:32.256, max:35.437};
const gridBox = {show:true, borderColor:AXC, borderWidth:1, backgroundColor:'transparent', containLabel:false, outerBoundsMode:'none'};

const option = {
  animation:false,
  backgroundColor:'#fff',
  textStyle:{fontFamily:FONT},
  grid:[
    Object.assign({left:90, top:19.5, width:444, height:344}, gridBox),
    Object.assign({left:90, top:377.5, width:444, height:314.2}, gridBox),
    Object.assign({left:647.5, top:228, width:355, height:463.7}, gridBox)
  ],
  xAxis:[
    {type:'value', gridIndex:0, min:xT.min, max:xT.max, splitNumber:5, axisLine:{show:false}, axisTick:tick, axisLabel:{show:false}, splitLine:split},
    {type:'value', gridIndex:1, min:xT.min, max:xT.max, splitNumber:5, axisLine:{show:false}, axisTick:tick,
      axisLabel:Object.assign({margin:6, showMinLabel:false, showMaxLabel:false}, lbl), splitLine:split,
      name:'Time since 2010\u221209\u221230  0:00AM (Hrs)', nameLocation:'middle', nameGap:35, nameTextStyle:{color:'#000', fontSize:20, fontFamily:FONT}},
    {type:'log', gridIndex:2, min:4, max:1000, logBase:10, axisLine:{show:false}, axisTick:tick,
      axisLabel:{margin:8, showMinLabel:false, formatter:logFmt, rich:logRich}, splitLine:split,
      name:'Averaging Time (s)', nameLocation:'middle', nameGap:33, nameTextStyle:{color:'#000', fontSize:20, fontFamily:FONT}},
    mirrorX(0,'value',xT.min,xT.max), mirrorX(1,'value',xT.min,xT.max), mirrorX(2,'log',4,1000)
  ],
  yAxis:[
    {type:'value', gridIndex:0, min:0, max:3000, interval:500, axisLine:{show:false}, axisTick:tick,
      axisLabel:Object.assign({margin:7, showMinLabel:false, showMaxLabel:true, formatter:v => String(v)}, lbl), splitLine:split,
      name:'Concentraion (ppm)', nameLocation:'middle', nameRotate:90, nameGap:59, nameTextStyle:{color:'#000', fontSize:20, fontFamily:FONT}},
    {type:'value', gridIndex:1, min:-65.6, max:3.2, splitNumber:7, axisLine:{show:false}, axisTick:tick,
      axisLabel:Object.assign({margin:7, showMinLabel:false, showMaxLabel:false, formatter:minus}, lbl), splitLine:split,
      name:'\u03b4{p|13}CO{q|2}  (\u2030)', nameLocation:'middle', nameRotate:90, nameGap:50, nameTextStyle:{color:'#000', fontSize:20, fontFamily:FONT, lineHeight:26, rich:nameRich}},
    {type:'log', gridIndex:2, min:0.01, max:10, logBase:10, axisLine:{show:false}, axisTick:tick,
      axisLabel:{margin:7, formatter:logFmt, rich:logRich}, splitLine:split,
      name:'Allan Deviation of \u03b4{p|13}CO{q|2}  (\u2030)', nameLocation:'middle', nameRotate:90, nameGap:38, nameTextStyle:{color:'#000', fontSize:20, fontFamily:FONT, lineHeight:26, rich:nameRich}},
    mirrorY(0,'value',0,3000,{interval:500}), mirrorY(1,'value',-65.6,3.2,{splitNumber:7}), mirrorY(2,'log',0.01,10)
  ],
  series:[
    {type:'line', xAxisIndex:0, yAxisIndex:0, data:red12Low, showSymbol:false, symbol:'none', lineStyle:{color:RED, width:2.4}, z:3,
      markLine:{silent:true, symbol:['arrow','arrow'], symbolSize:11, label:{show:false}, animation:false,
        data:[
          [{coord:arrowLow[0], lineStyle:{color:BLUE, width:1.5, type:'solid'}, itemStyle:{color:BLUE}}, {coord:arrowLow[1]}],
          [{coord:arrowHigh[0], lineStyle:{color:LTGREEN, width:1.5, type:'solid'}, itemStyle:{color:LTGREEN}}, {coord:arrowHigh[1]}]
        ]}},
    {type:'line', xAxisIndex:0, yAxisIndex:0, data:red12High, showSymbol:false, symbol:'none', lineStyle:{color:RED, width:2.4}, z:3},
    {type:'line', xAxisIndex:0, yAxisIndex:0, data:red12Tail, showSymbol:false, symbol:'none', lineStyle:{color:RED, width:2.4}, z:3},
    {type:'scatter', xAxisIndex:0, yAxisIndex:0, data:red12Dots, symbolSize:3, itemStyle:{color:RED}, z:3},
    {type:'line', xAxisIndex:0, yAxisIndex:0, data:green13, showSymbol:false, symbol:'none', clip:false, lineStyle:{color:DKGREEN, width:3}, z:3},

    {type:'scatter', xAxisIndex:1, yAxisIndex:1, data:rowsToPoints(grayRows).concat(grayStray), symbolSize:4.6, itemStyle:{color:GRAY}, z:3},
    {type:'scatter', xAxisIndex:1, yAxisIndex:1, data:rowsToPoints(blueRows).concat(rowsToPoints(blueCoreRows)), symbolSize:5.4, itemStyle:{color:BLUE}, z:3},
    {type:'scatter', xAxisIndex:1, yAxisIndex:1, data:rowsToPoints(greenRows), symbolSize:4.6, itemStyle:{color:LTGREEN}, z:3},

    {type:'scatter', xAxisIndex:2, yAxisIndex:2, data:allanBlue, symbol:'circle', symbolSize:9, itemStyle:{color:'rgba(0,0,0,0)', borderColor:'#1ba8e4', borderWidth:1.4}, z:3},
    {type:'scatter', xAxisIndex:2, yAxisIndex:2, data:allanGreen, symbol:'circle', symbolSize:9, itemStyle:{color:'rgba(0,0,0,0)', borderColor:'#6cb545', borderWidth:1.4}, z:3},
    {type:'line', xAxisIndex:2, yAxisIndex:2, data:allanBlueFit, smooth:0.3, showSymbol:false, symbol:'none', lineStyle:{color:'#000', width:1.8}, z:4,
      markLine:{silent:true, symbol:'none', label:{show:false}, z:1, animation:false, lineStyle:{color:'#b8b8b8', type:[1,3], width:1},
        data: minorTau.map(v=>({xAxis:v})).concat(minorDev.map(v=>({yAxis:v})))}},
    {type:'line', xAxisIndex:2, yAxisIndex:2, data:allanGreenFit, smooth:0.3, showSymbol:false, symbol:'none', lineStyle:{color:'#000', width:1.8}, z:4}
  ],
  graphic:[
    {type:'rect', z:100, silent:true, shape:{x:99, y:25, width:106, height:83}, style:{fill:'#fff', stroke:'#000', lineWidth:1.5}},
    T(118, 48, '{p|12}{m|CO}{b|2}', RED, 25, 'bold', {
      p:{fill:RED, fontSize:15, fontWeight:'bold', fontFamily:FONT, verticalAlign:'top', lineHeight:15},
      m:{fill:RED, fontSize:25, fontWeight:'bold', fontFamily:FONT, lineHeight:32},
      b:{fill:RED, fontSize:17, fontWeight:'bold', fontFamily:FONT, verticalAlign:'bottom', lineHeight:16}}),
    T(118, 85.5, '{p|13}{m|CO}{b|2}', DKGREEN, 25, 'bold', {
      p:{fill:DKGREEN, fontSize:15, fontWeight:'bold', fontFamily:FONT, verticalAlign:'top', lineHeight:15},
      m:{fill:DKGREEN, fontSize:25, fontWeight:'bold', fontFamily:FONT, lineHeight:32},
      b:{fill:DKGREEN, fontSize:17, fontWeight:'bold', fontFamily:FONT, verticalAlign:'bottom', lineHeight:16}}),
    TC(291, 43, 'Gas with', LTGREEN, 20, 'bold'),
    TC(290, 68, 'high CO{b|2} conc.', LTGREEN, 20, 'bold', ss(LTGREEN, 20, 'bold')),
    TC(221, 261, 'Gas with', BLUE, 20, 'bold'),
    TC(225, 285, 'low CO{b|2} conc.', BLUE, 20, 'bold', ss(BLUE, 20, 'bold')),
    TC(231, 483, 'Gas with', BLUE, 20, 'bold'),
    TC(235, 507, 'low CO{b|2} conc.', BLUE, 20, 'bold', ss(BLUE, 20, 'bold')),
    TC(457, 622, 'Gas with', LTGREEN, 20, 'bold'),
    TC(457, 647, 'high CO{b|2} conc.', LTGREEN, 20, 'bold', ss(LTGREEN, 20, 'bold')),
    {type:'rect', z:100, silent:true, shape:{x:604, y:19.5, width:398, height:180.5}, style:{fill:'#fff', stroke:'#444', lineWidth:1.2}},
    T(655, 39.5, 'Low vs. High concentration', '#000', 20, 'bold'),
    {type:'circle', z:100, silent:true, shape:{cx:667, cy:77, r:5.5}, style:{fill:BLUE}},
    T(694, 77, '373 ppm  CO2 concentration', '#000', 21),
    T(694, 104, '\u03b4{p|13}CO{b|2} = - 44.9 \u00b1 4.4 \u2030', '#000', 21, 'normal', ss('#000', 21)),
    {type:'circle', z:100, silent:true, shape:{cx:667, cy:137, r:5.5}, style:{fill:LTGREEN}},
    T(694, 137, '2853 ppm CO2 concentration', '#000', 21),
    T(694, 164, '\u03b4{p|13}CO{b|2} = - 43.6 \u00b1 0.6 \u2030', '#000', 21, 'normal', ss('#000', 21)),
    {type:'rect', z:100, silent:true, shape:{x:797, y:238, width:196, height:122}, style:{fill:'#fff', stroke:'#000', lineWidth:1.5}},
    {type:'circle', z:101, silent:true, shape:{cx:817.5, cy:259.5, r:4.3}, style:{fill:'none', stroke:'#1ba8e4', lineWidth:1.6}},
    T(845, 260, '\u03b4{s|min} = 0.213', '#000', 20, 'normal', ss('#000', 20)),
    T(846, 286.5, 'in 21 min. avg.', '#000', 20),
    {type:'circle', z:101, silent:true, shape:{cx:819, cy:314, r:4.3}, style:{fill:'none', stroke:'#6cb545', lineWidth:1.6}},
    T(845, 312.5, '\u03b4{s|min} = 0.03', '#000', 20, 'normal', ss('#000', 20)),
    T(846, 338.5, 'in 7 min. avg.', '#000', 20)
  ]
};

const chart = echarts.init(document.getElementById('chart'), null, {renderer:'canvas'});
chart.setOption(option);
</script>
</body>
</html>
